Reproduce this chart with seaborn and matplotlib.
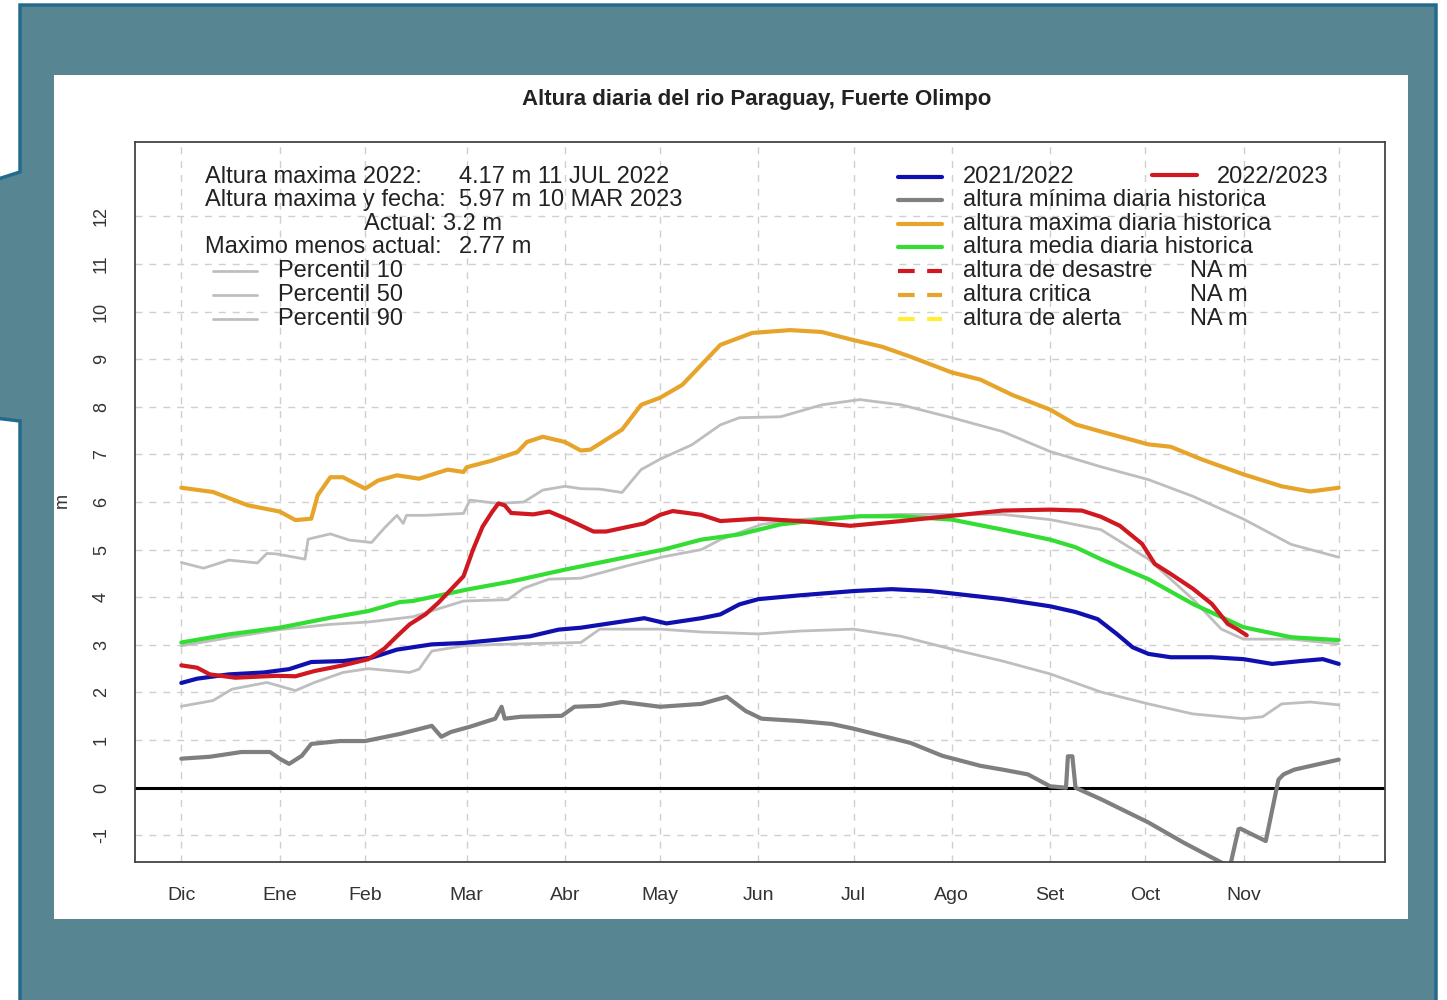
import numpy as np
import pandas as pd
import matplotlib
matplotlib.use('Agg')
import matplotlib.pyplot as plt
import seaborn as sns
from matplotlib.patches import Polygon, Rectangle

sns.set_style('white')
plt.rcParams['font.family'] = ['Liberation Sans', 'DejaVu Sans']

# eje x: dias desde el 1 de diciembre
meses = ['Dic', 'Ene', 'Feb', 'Mar', 'Abr', 'May', 'Jun', 'Jul', 'Ago', 'Set', 'Oct', 'Nov']
dias_mes = [0, 31, 58, 90, 121, 151, 182, 212, 243, 274, 304, 335]
y_ticks = list(range(-1, 13))

# altura maxima diaria historica
dias_max = [0, 10, 21, 31, 36, 41, 43, 47, 51, 58, 62, 68, 75, 84, 89, 90, 98, 106, 109, 114, 121, 126,
            129, 139, 145, 151, 158, 164, 170, 180, 192, 202, 212, 221, 230, 243, 252, 262, 274, 282,
            290, 305, 312, 322, 335, 347, 356, 365]
alt_max = [6.30, 6.21, 5.93, 5.80, 5.62, 5.65, 6.14, 6.52, 6.52, 6.28, 6.45, 6.56, 6.49, 6.68, 6.63, 6.73,
           6.87, 7.05, 7.26, 7.37, 7.26, 7.08, 7.10, 7.52, 8.04, 8.19, 8.46, 8.88, 9.30, 9.55, 9.61, 9.57,
           9.40, 9.26, 9.05, 8.72, 8.57, 8.25, 7.94, 7.63, 7.48, 7.21, 7.16, 6.89, 6.58, 6.33, 6.22, 6.30]

# percentil 90
dias_p90 = [0, 7, 15, 24, 27, 30, 39, 40, 47, 53, 60, 64, 68, 70, 71, 77, 89, 91, 100, 108, 114, 121, 126,
            132, 139, 145, 151, 161, 170, 176, 189, 202, 214, 227, 243, 259, 274, 290, 305, 319, 335, 350, 365]
alt_p90 = [4.73, 4.61, 4.78, 4.72, 4.92, 4.91, 4.80, 5.22, 5.33, 5.20, 5.15, 5.45, 5.72, 5.55, 5.72, 5.72,
           5.76, 6.04, 5.97, 6.00, 6.25, 6.33, 6.28, 6.27, 6.20, 6.68, 6.90, 7.20, 7.62, 7.77, 7.79, 8.04,
           8.15, 8.04, 7.77, 7.48, 7.06, 6.74, 6.47, 6.12, 5.64, 5.11, 4.84]

# percentil 50
dias_p50 = [0, 15, 31, 47, 59, 73, 89, 103, 108, 116, 126, 140, 152, 164, 170, 183, 195, 211, 227, 243,
            259, 274, 290, 305, 319, 328, 335, 350, 365]
alt_p50 = [2.98, 3.15, 3.32, 3.43, 3.48, 3.59, 3.92, 3.95, 4.19, 4.38, 4.40, 4.65, 4.85, 5.00, 5.21, 5.53,
           5.63, 5.70, 5.74, 5.74, 5.74, 5.63, 5.42, 4.80, 3.96, 3.33, 3.12, 3.12, 3.02]

# percentil 10
dias_p10 = [0, 10, 16, 27, 36, 42, 51, 59, 72, 75, 79, 89, 100, 126, 132, 151, 164, 182, 195, 212, 227,
            243, 259, 274, 290, 305, 319, 335, 341, 347, 356, 365]
alt_p10 = [1.71, 1.83, 2.07, 2.21, 2.04, 2.21, 2.42, 2.50, 2.42, 2.49, 2.87, 2.98, 3.01, 3.05, 3.33, 3.33,
           3.27, 3.23, 3.29, 3.33, 3.18, 2.91, 2.66, 2.39, 2.01, 1.76, 1.55, 1.45, 1.49, 1.76, 1.80, 1.74]

# altura minima diaria historica
dias_min = [0, 9, 19, 28, 31, 34, 38, 41, 50, 58, 69, 79, 82, 85, 91, 99, 101, 102, 107, 120, 124, 132,
            139, 151, 164, 172, 178, 183, 195, 205, 212, 221, 230, 240, 252, 259, 267, 274, 279, 279.6,
            281, 282, 290, 305, 316, 328, 330, 331, 333.4, 334, 342, 346, 347.6, 351, 365]
alt_min = [0.61, 0.65, 0.75, 0.75, 0.61, 0.50, 0.67, 0.92, 0.98, 0.98, 1.13, 1.30, 1.07, 1.17, 1.28, 1.45,
           1.70, 1.45, 1.49, 1.51, 1.70, 1.72, 1.80, 1.70, 1.76, 1.91, 1.61, 1.45, 1.40, 1.34, 1.24, 1.09,
           0.94, 0.67, 0.46, 0.38, 0.28, 0.03, 0.00, 0.66, 0.66, 0.00, -0.24, -0.73, -1.15, -1.57, -1.64,
           -1.57, -0.87, -0.86, -1.12, 0.17, 0.28, 0.38, 0.59]

# altura media diaria historica
dias_media = [0, 15, 31, 47, 59, 69, 73, 90, 104, 121, 152, 164, 176, 189, 202, 214, 227, 243, 259, 274,
              282, 290, 305, 319, 335, 350, 365]
alt_media = [3.05, 3.22, 3.36, 3.57, 3.71, 3.90, 3.92, 4.16, 4.33, 4.58, 5.00, 5.21, 5.32, 5.53, 5.63,
             5.70, 5.70, 5.63, 5.42, 5.21, 5.05, 4.80, 4.38, 3.86, 3.37, 3.16, 3.10]

# 2021/2022
dias_2122 = [0, 5, 15, 26, 34, 41, 51, 60, 68, 79, 89, 100, 110, 119, 126, 142, 146, 153, 164, 170, 176,
             182, 195, 212, 224, 236, 243, 259, 274, 282, 289, 295, 300, 305, 312, 325, 335, 344, 353,
             360, 365]
alt_2122 = [2.20, 2.29, 2.38, 2.42, 2.49, 2.64, 2.66, 2.73, 2.90, 3.01, 3.04, 3.11, 3.18, 3.32, 3.36, 3.52,
            3.56, 3.45, 3.56, 3.64, 3.85, 3.96, 4.04, 4.13, 4.17, 4.13, 4.08, 3.96, 3.81, 3.69, 3.54, 3.23,
            2.95, 2.81, 2.74, 2.74, 2.70, 2.60, 2.66, 2.70, 2.60]

# 2022/2023
dias_2223 = [0, 5, 9, 17, 30, 36, 42, 51, 59, 64, 68, 72, 77, 81, 85, 89, 92, 95, 98, 100, 102, 104, 111,
             116, 122, 130, 134, 141, 146, 151, 155, 164, 170, 182, 195, 211, 227, 243, 259, 274, 284,
             290, 296, 303, 307, 312, 319, 325, 330, 333, 336]
alt_2223 = [2.57, 2.52, 2.38, 2.31, 2.35, 2.34, 2.45, 2.57, 2.70, 2.92, 3.18, 3.43, 3.64, 3.88, 4.16, 4.44,
            5.00, 5.48, 5.79, 5.97, 5.93, 5.77, 5.74, 5.80, 5.63, 5.38, 5.38, 5.48, 5.55, 5.73, 5.81, 5.73,
            5.60, 5.65, 5.60, 5.50, 5.60, 5.71, 5.82, 5.84, 5.82, 5.69, 5.50, 5.12, 4.70, 4.49, 4.18, 3.86,
            3.44, 3.33, 3.20]

W, H = 1447, 1000
fig = plt.figure(figsize=(W / 100, H / 100), dpi=100)
fig.patch.set_facecolor('white')

# marco de fondo (coordenadas en pixeles)
bg = fig.add_axes([0, 0, 1, 1], zorder=0)
bg.set_xlim(0, W)
bg.set_ylim(H, 0)
bg.axis('off')
marco = [(20, 5), (1436, 5), (1436, 1010), (20, 1010), (20, 421), (-5, 418), (-5, 180), (20, 172)]
bg.add_patch(Polygon(marco, closed=True, facecolor='#578692', edgecolor='#236b8c', linewidth=2.5))
bg.add_patch(Rectangle((54, 75), 1354, 844, facecolor='white', edgecolor='none'))

ax = fig.add_axes([135 / W, 1 - 862 / H, 1250 / W, 720 / H], zorder=2)
ax.set_xlim(-14.6, 379.6)
ax.set_ylim(-1.56, 13.56)

grid_kw = dict(color='#cfcfcf', linewidth=1.0, linestyle=(0, (5, 5)), zorder=0)
for d in dias_mes + [365]:
    ax.axvline(d, **grid_kw)
for v in y_ticks:
    ax.axhline(v, **grid_kw)
ax.axhline(0, color='black', linewidth=2.2, zorder=1)

gris = '#bebebe'
sns.lineplot(x=dias_p90, y=alt_p90, ax=ax, color=gris, linewidth=2.0, estimator=None, sort=False)
sns.lineplot(x=dias_p50, y=alt_p50, ax=ax, color=gris, linewidth=2.0, estimator=None, sort=False)
sns.lineplot(x=dias_p10, y=alt_p10, ax=ax, color=gris, linewidth=2.0, estimator=None, sort=False)
sns.lineplot(x=dias_min, y=alt_min, ax=ax, color='#7f7f7f', linewidth=3.0, estimator=None, sort=False)
sns.lineplot(x=dias_max, y=alt_max, ax=ax, color='#e6a52a', linewidth=3.0, estimator=None, sort=False)
sns.lineplot(x=dias_media, y=alt_media, ax=ax, color='#33dd33', linewidth=3.0, estimator=None, sort=False)
sns.lineplot(x=dias_2122, y=alt_2122, ax=ax, color='#1010b0', linewidth=3.0, estimator=None, sort=False)
sns.lineplot(x=dias_2223, y=alt_2223, ax=ax, color='#d01820', linewidth=3.0, estimator=None, sort=False)

ax.set_xticks(dias_mes)
ax.set_xticklabels(meses, fontsize=14, color='#333333')
ax.set_yticks(y_ticks)
ax.set_yticklabels([str(v) for v in y_ticks], fontsize=13, color='#333333', rotation=90, va='center')
ax.tick_params(direction='out', length=10, width=1.2, color='#444444', pad=8)
ax.set_xlabel('')
ax.set_ylabel('')
for s in ax.spines.values():
    s.set_color('#444444')
    s.set_linewidth(1.3)

# textos y leyendas (coordenadas en pixeles)
fg = fig.add_axes([0, 0, 1, 1], zorder=3)
fg.set_xlim(0, W)
fg.set_ylim(H, 0)
fg.axis('off')
fg.patch.set_alpha(0)

fg.text(757, 99, 'Altura diaria del rio Paraguay, Fuerte Olimpo', ha='center', va='center',
        fontsize=16, fontweight='bold', color='#222222')
fg.text(62, 500, 'm', ha='center', va='center', rotation=90, fontsize=13, color='#333333')

fs = 17
tc = '#222222'
filas = [177, 200, 224, 247, 271, 295, 319]
fg.text(205, filas[0], 'Altura maxima 2022:', va='center', fontsize=fs, color=tc)
fg.text(459, filas[0], '4.17 m 11 JUL 2022', va='center', fontsize=fs, color=tc)
fg.text(205, filas[1], 'Altura maxima y fecha:', va='center', fontsize=fs, color=tc)
fg.text(459, filas[1], '5.97 m 10 MAR 2023', va='center', fontsize=fs, color=tc)
fg.text(433, filas[2], 'Actual: 3.2 m', va='center', ha='center', fontsize=fs, color=tc)
fg.text(205, filas[3], 'Maximo menos actual:', va='center', fontsize=fs, color=tc)
fg.text(459, filas[3], '2.77 m', va='center', fontsize=fs, color=tc)
for fila, nombre in zip(filas[4:], ['Percentil 10', 'Percentil 50', 'Percentil 90']):
    fg.plot([213, 257], [fila, fila], color=gris, linewidth=2.0)
    fg.text(278, fila, nombre, va='center', fontsize=fs, color=tc)

claves = [
    ('2021/2022', '#1010b0', '-'),
    ('altura mínima diaria historica', '#7f7f7f', '-'),
    ('altura maxima diaria historica', '#e6a52a', '-'),
    ('altura media diaria historica', '#33dd33', '-'),
    ('altura de desastre', '#d01820', (0, (4, 3))),
    ('altura critica', '#e6a52a', (0, (4, 3))),
    ('altura de alerta', '#ffee33', (0, (4, 3))),
]
for fila, (nombre, col, ls) in zip(filas, claves):
    fg.plot([898, 942], [fila, fila], color=col, linewidth=3.0, linestyle=ls)
    fg.text(963, fila, nombre, va='center', fontsize=fs, color=tc)
for fila in filas[4:]:
    fg.text(1190, fila, 'NA m', va='center', fontsize=fs, color=tc)
fg.plot([1152, 1197], [filas[0] - 2, filas[0] - 2], color='#d01820', linewidth=3.0)
fg.text(1217, filas[0], '2022/2023', va='center', fontsize=fs, color=tc)

plt.savefig('out.png', dpi=100)
